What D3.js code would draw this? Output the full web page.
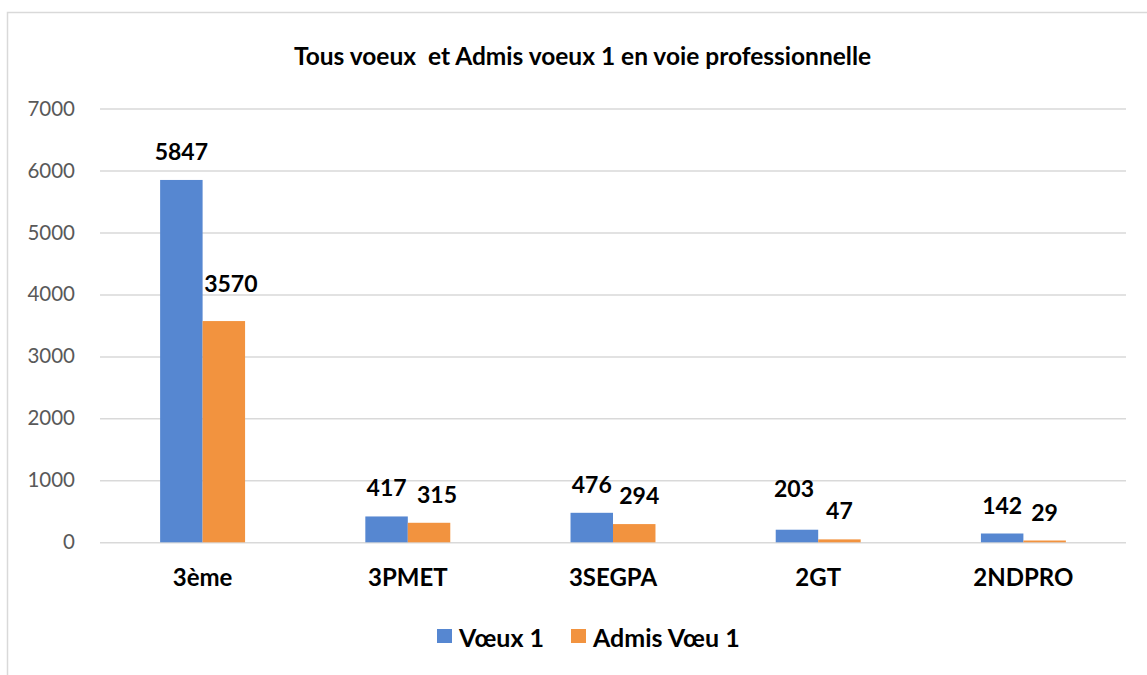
<!DOCTYPE html>
<html>
<head>
<meta charset="utf-8">
<title>Tous voeux et Admis voeux 1 en voie professionnelle</title>
<script src="https://cdn.jsdelivr.net/npm/d3@7"></script>
<style>
    * { margin: 0; padding: 0; }
    body { background: #fff; }
    svg { display: block; font-family: Lato, "Open Sans", sans-serif; }
    .y-axis text { fill: #595959; font-size: 20.5px; font-family: Lato, sans-serif; }
    .x-axis text { fill: #000; font-size: 24px; font-weight: bold; font-family: Lato, sans-serif; }
    .label { font-size: 23px; font-weight: bold; fill: #000; }
</style>
</head>
<body>
<div id="chart"></div>
<script>
    // Data
    const categories = ['3ème', '3PMET', '3SEGPA', '2GT', '2NDPRO'];
    const series = ['Vœux 1', 'Admis Vœu 1'];
    const voeux1 = [5847, 417, 476, 203, 142];
    const admisVoeu1 = [3570, 315, 294, 47, 29];
    const yTicks = [0, 1000, 2000, 3000, 4000, 5000, 6000, 7000];

    // Manual nudges of a few value labels (dx, dy), as in the original
    const labelNudge = [
        [[0, 0], [7, -9]],
        [[0, 0], [8, 0]],
        [[0, 0], [5, 0]],
        [[-3, -13], [0, 0]],
        [[0, 0], [0, 0]]
    ];

    const colors = ['#5687d1', '#f2933f'];
    const values = [voeux1, admisVoeu1];

    const width = 1147, height = 675;
    const plotLeft = 100, plotRight = 1126, plotTop = 108.5, plotBottom = 542.3;

    const svg = d3.select('#chart').append('svg')
        .attr('width', width)
        .attr('height', height);

    // Chart frame
    svg.append('rect')
        .attr('x', 7.5).attr('y', 12.5)
        .attr('width', width + 20).attr('height', height + 20)
        .attr('fill', '#fff')
        .attr('stroke', '#d9d9d9')
        .attr('stroke-width', 1.5);

    svg.append('text')
        .attr('x', 582.5).attr('y', 65)
        .attr('text-anchor', 'middle')
        .attr('xml:space', 'preserve')
        .style('font-size', '24.5px')
        .style('font-weight', 'bold')
        .text('Tous voeux  et Admis voeux 1 en voie professionnelle');

    const x = d3.scaleBand()
        .domain(categories)
        .range([plotLeft, plotRight])
        .paddingInner(0.586)
        .paddingOuter(0.293);

    const xSub = d3.scaleBand()
        .domain(series)
        .range([0, x.bandwidth()]);

    const y = d3.scaleLinear()
        .domain([0, 7000])
        .range([plotBottom, plotTop]);

    // Y axis + gridlines
    const yAxis = svg.append('g')
        .attr('class', 'y-axis')
        .attr('transform', 'translate(' + plotLeft + ',0)')
        .call(d3.axisLeft(y).tickValues(yTicks).tickFormat(d3.format('d'))
            .tickSize(-(plotRight - plotLeft)).tickPadding(25));
    yAxis.select('.domain').remove();
    yAxis.selectAll('line').attr('stroke', '#d9d9d9').attr('stroke-width', 1.5);

    // X axis (category labels)
    const xAxis = svg.append('g')
        .attr('class', 'x-axis')
        .attr('transform', 'translate(0,' + plotBottom + ')')
        .call(d3.axisBottom(x).tickSize(0));
    xAxis.select('.domain').remove();
    xAxis.selectAll('text').attr('y', 43.5).attr('dy', 0);

    // Bars
    const groups = svg.selectAll('.group')
        .data(categories)
        .enter().append('g')
        .attr('class', 'group')
        .attr('transform', d => 'translate(' + x(d) + ',0)');

    groups.each(function(cat, i) {
        const g = d3.select(this);
        series.forEach(function(s, j) {
            const v = values[j][i];
            g.append('rect')
                .attr('class', 'bar')
                .attr('x', xSub(s))
                .attr('y', y(v))
                .attr('width', xSub.bandwidth())
                .attr('height', y(0) - y(v))
                .attr('fill', colors[j]);
            g.append('text')
                .attr('class', 'label')
                .attr('text-anchor', 'middle')
                .attr('x', xSub(s) + xSub.bandwidth() / 2 + labelNudge[i][j][0])
                .attr('y', y(v) - 20 + labelNudge[i][j][1])
                .text(v);
        });
    });

    // Legend
    const legend = svg.append('g').attr('transform', 'translate(437,629)');
    const legendX = [0, 134];
    series.forEach(function(s, j) {
        legend.append('rect')
            .attr('x', legendX[j]).attr('y', 0)
            .attr('width', 15).attr('height', 14)
            .attr('fill', colors[j]);
        legend.append('text')
            .attr('x', legendX[j] + 22).attr('y', 17.5)
            .style('font-size', '25px')
            .style('font-weight', 'bold')
            .text(s);
    });
</script>
</body>
</html>
